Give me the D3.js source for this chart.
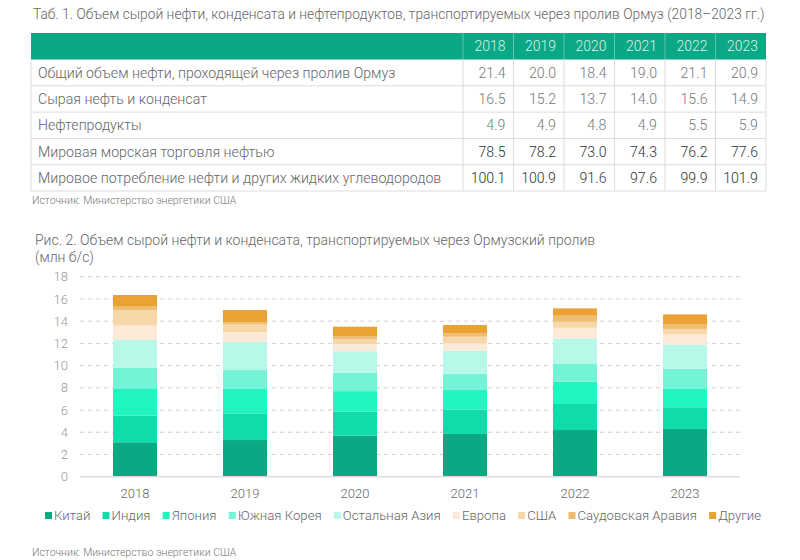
<!DOCTYPE html>
<html><head><meta charset="utf-8">
<script src="https://cdn.jsdelivr.net/npm/d3@7"></script>
<style>body{margin:0;background:#fff}svg{font-family:"Roboto Light",Roboto,"Noto Sans",sans-serif}</style>
</head><body><svg id="c" width="800" height="560"></svg>
<script>
const years = ["2018","2019","2020","2021","2022","2023"];
const tableTitle = "Таб. 1. Объем сырой нефти, конденсата и нефтепродуктов, транспортируемых через пролив Ормуз (2018–2023 гг.)";
const rowLabels = ["Общий объем нефти, проходящей через пролив Ормуз","Сырая нефть и конденсат","Нефтепродукты","Мировая морская торговля нефтью","Мировое потребление нефти и других жидких углеводородов"];
const rowTotal = ["21.4","20.0","18.4","19.0","21.1","20.9"];
const rowCrude = ["16.5","15.2","13.7","14.0","15.6","14.9"];
const rowProducts = ["4.9","4.9","4.8","4.9","5.5","5.9"];
const rowSeaTrade = ["78.5","78.2","73.0","74.3","76.2","77.6"];
const rowConsumption = ["100.1","100.9","91.6","97.6","99.9","101.9"];
const sourceText = "Источник: Министерство энергетики США";
const chartTitle = "Рис. 2. Объем сырой нефти и конденсата, транспортируемых через Ормузский пролив";
const unitText = "(млн б/с)";
const seriesNames = ["Китай","Индия","Япония","Южная Корея","Остальная Азия","Европа","США","Саудовская Аравия","Другие"];
const china = [3.1,3.3,3.7,3.85,4.2,4.3];
const india = [2.4,2.4,2.15,2.2,2.35,1.95];
const japan = [2.45,2.2,1.85,1.75,2.0,1.65];
const korea = [1.85,1.7,1.65,1.45,1.65,1.8];
const restAsia = [2.5,2.55,1.95,2.1,2.25,2.2];
const europe = [1.3,0.85,0.65,0.65,0.95,0.95];
const usa = [1.4,0.7,0.4,0.6,0.55,0.45];
const saudi = [0.3,0.2,0.3,0.3,0.55,0.4];
const others = [1.05,1.1,0.85,0.75,0.65,0.9];
const yTicks = [0,2,4,6,8,10,12,14,16,18];
const colors = ["#0ba884","#10dca9","#22f4c0","#74f3d6","#b8f8e8","#fde9d8","#f6d8a8","#efbd72","#e9a233"];

const svg = d3.select("#c");
const rows = [rowTotal,rowCrude,rowProducts,rowSeaTrade,rowConsumption];

// ---- Table ----
svg.append("text").attr("x",33).attr("y",19).attr("font-size",13.8).attr("fill","#666").attr("font-weight",300).text(tableTitle);
const tL=31, tR=766, hTop=33, hBot=59.5, rowH=26.3;
const colX = d3.scaleBand().domain(years).range([463,tR]);
const rowY = d3.scaleBand().domain(d3.range(rows.length)).range([hBot,hBot+rowH*rows.length]);
svg.append("rect").attr("x",tL).attr("y",hTop).attr("width",tR-tL).attr("height",hBot-hTop).attr("fill","#0aa884");
const tg = svg.append("g");
tg.selectAll("line.h").data(d3.range(rows.length)).join("line")
  .attr("x1",tL).attr("x2",tR).attr("y1",i=>rowY(i)+rowY.bandwidth()).attr("y2",i=>rowY(i)+rowY.bandwidth())
  .attr("stroke","#dcdcdc");
[tL, ...years.map(y=>colX(y)), tR].forEach(x=>{
  tg.append("line").attr("x1",x).attr("x2",x).attr("y1",hBot).attr("y2",hBot+rowH*rows.length).attr("stroke","#dcdcdc");
});
years.forEach(y=>{
  tg.append("line").attr("x1",colX(y)).attr("x2",colX(y)).attr("y1",hTop).attr("y2",hBot).attr("stroke","#5cc9a9");
});
svg.selectAll("text.yr").data(years).join("text").attr("class","yr")
  .attr("x",d=>colX(d)+colX.bandwidth()-8).attr("y",(hTop+hBot)/2+5).attr("text-anchor","end")
  .attr("font-size",14).attr("fill","#d6f3ea").attr("font-weight",300).text(d=>d);
svg.selectAll("text.rl").data(rowLabels).join("text").attr("class","rl")
  .attr("x",38).attr("y",(d,i)=>rowY(i)+rowY.bandwidth()/2+5)
  .attr("font-size",14.2).attr("fill","#666").attr("font-weight",300).text(d=>d);
rows.forEach((r,i)=>{
  svg.selectAll("text.v"+i).data(r).join("text")
    .attr("x",(d,j)=>colX(years[j])+colX.bandwidth()-8).attr("y",rowY(i)+rowY.bandwidth()/2+5)
    .attr("text-anchor","end").attr("font-size",14.2)
    .attr("fill",i>=3?"#333":"#777").attr("font-weight",300).text(d=>d);
});
svg.append("text").attr("x",32).attr("y",204).attr("font-size",10.5).attr("fill","#777").attr("font-weight",300).text(sourceText);

// ---- Chart ----
svg.append("text").attr("x",35).attr("y",245).attr("font-size",14).attr("fill","#666").attr("font-weight",300).text(chartTitle);
svg.append("text").attr("x",35).attr("y",262).attr("font-size",14).attr("fill","#666").attr("font-weight",300).text(unitText);

const x = d3.scaleBand().domain(years).range([80,740]).paddingInner(0.6).paddingOuter(0.3);
const y = d3.scaleLinear().domain([0,18]).range([476.7,276.7]);
const seriesArrays = [china,india,japan,korea,restAsia,europe,usa,saudi,others];
const table = years.map((yr,i)=>{const o={year:yr}; seriesNames.forEach((n,k)=>o[n]=seriesArrays[k][i]); return o;});
const stacked = d3.stack().keys(seriesNames)(table);

const grid = svg.append("g");
grid.selectAll("line").data(yTicks.filter(t=>t>0)).join("line")
  .attr("x1",80).attr("x2",740).attr("y1",d=>y(d)).attr("y2",d=>y(d))
  .attr("stroke","#cfcfcf").attr("stroke-dasharray","4,4");
const yAxis = svg.append("g").attr("transform","translate(80,0)")
  .call(d3.axisLeft(y).tickValues(yTicks).tickSize(0).tickPadding(12));
yAxis.select(".domain").remove();
yAxis.selectAll("text").attr("font-size",13).attr("fill","#999").attr("font-family","Roboto").attr("font-weight",300);

svg.append("g").selectAll("g").data(stacked).join("g").attr("fill",(d,i)=>colors[i])
  .selectAll("rect").data(d=>d).join("rect")
  .attr("x",d=>x(d.data.year)).attr("width",x.bandwidth())
  .attr("y",d=>y(d[1])).attr("height",d=>y(d[0])-y(d[1]));

svg.append("line").attr("x1",80).attr("x2",740).attr("y1",y(0)).attr("y2",y(0)).attr("stroke","#dddddd").attr("stroke-width",1.5);
const xAxis = svg.append("g").attr("transform",`translate(0,${y(0)})`)
  .call(d3.axisBottom(x).tickSize(0).tickPadding(12));
xAxis.select(".domain").remove();
xAxis.selectAll("text").attr("font-size",13).attr("fill","#666").attr("font-family","Roboto").attr("font-weight",300);

// legend
const lg = svg.append("g");
const items = lg.selectAll("g").data(seriesNames).join("g");
items.append("rect").attr("width",7).attr("height",7).attr("y",-8).attr("fill",(d,i)=>colors[i]);
items.append("text").attr("x",9).attr("font-size",13.2).attr("fill","#666").attr("font-weight",300).text(d=>d);
const widths = [];
items.each(function(){widths.push(9+d3.select(this).select("text").node().getComputedTextLength());});
const lStart=45, lEnd=761;
const gap = (lEnd-lStart-d3.sum(widths))/(widths.length-1);
let cx=lStart;
items.each(function(d,i){d3.select(this).attr("transform",`translate(${cx},520)`); cx+=widths[i]+gap;});

svg.append("text").attr("x",32).attr("y",556).attr("font-size",10.5).attr("fill","#777").attr("font-weight",300).text(sourceText);
</script></body></html>
